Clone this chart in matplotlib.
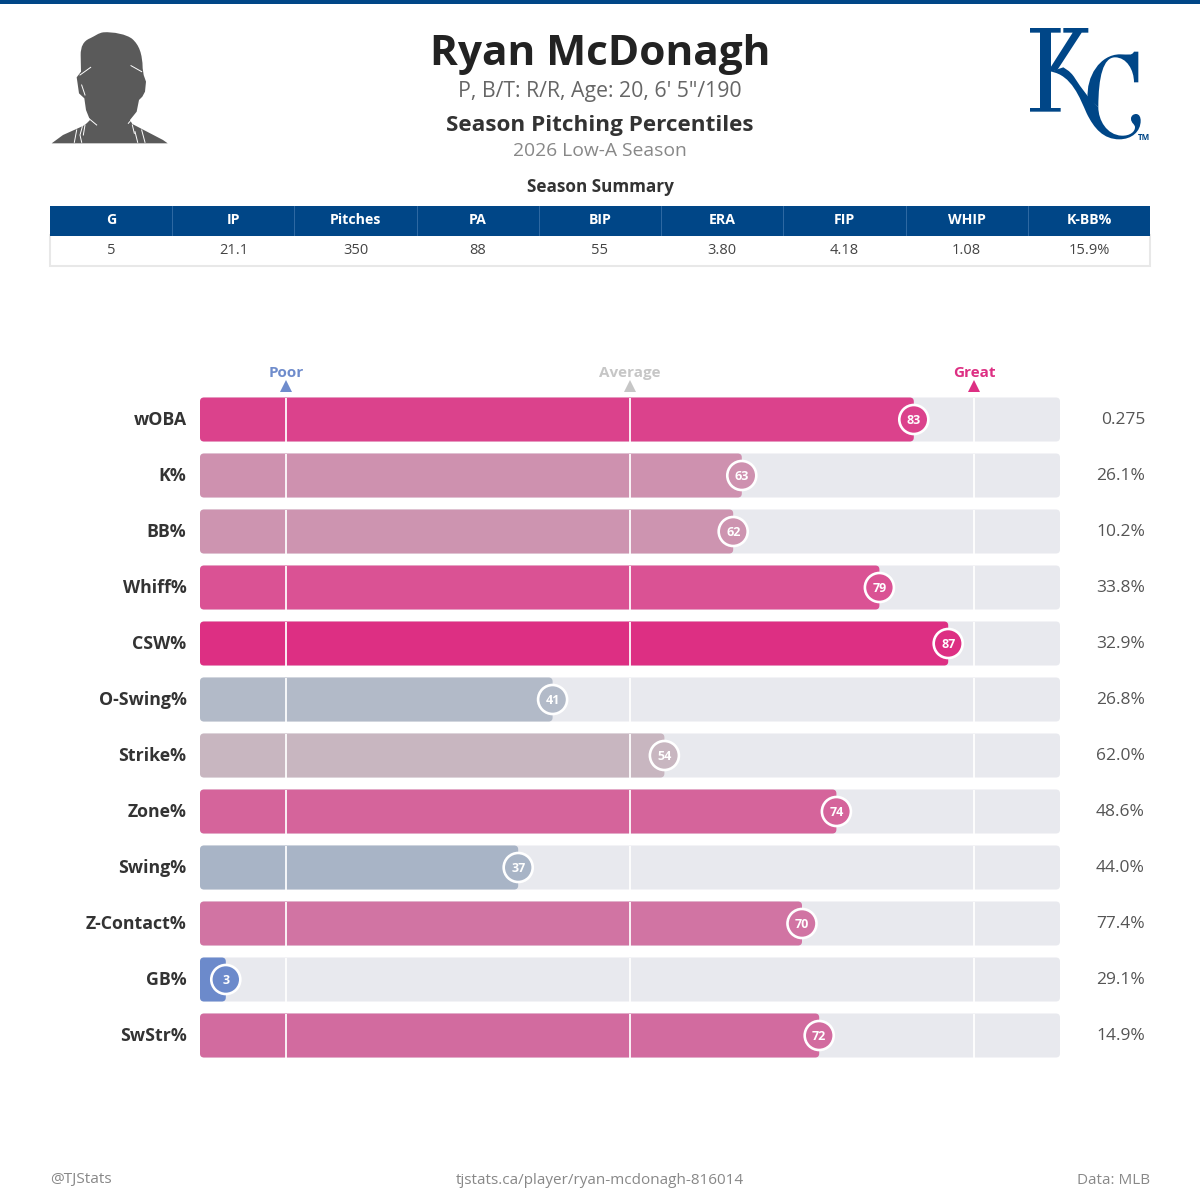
import matplotlib
matplotlib.use('Agg')
import matplotlib.pyplot as plt
from matplotlib.patches import FancyBboxPatch, PathPatch, Rectangle
from matplotlib.path import Path

plt.rcParams['font.family'] = ['Open Sans', 'DejaVu Sans']

# season summary table
summary_cols = ['G', 'IP', 'Pitches', 'PA', 'BIP', 'ERA', 'FIP', 'WHIP', 'K-BB%']
summary_vals = ['5', '21.1', '350', '88', '55', '3.80', '4.18', '1.08', '15.9%']

# percentile rows
metrics = ['wOBA', 'K%', 'BB%', 'Whiff%', 'CSW%', 'O-Swing%', 'Strike%', 'Zone%',
           'Swing%', 'Z-Contact%', 'GB%', 'SwStr%']
percentiles = [83, 63, 62, 79, 87, 41, 54, 74, 37, 70, 3, 72]
stat_values = ['0.275', '26.1%', '10.2%', '33.8%', '32.9%', '26.8%', '62.0%', '48.6%',
               '44.0%', '77.4%', '29.1%', '14.9%']
bar_colors = ['#DB428C', '#CE91AF', '#CD94B0', '#DA5294', '#DD2F83', '#B2BAC8',
              '#C8B6C0', '#D5649B', '#A8B4C6', '#D174A3', '#6C8ACB', '#D26B9F']

# scale markers
marker_names = ['Poor', 'Average', 'Great']
marker_pcts = [10, 50, 90]
marker_colors = ['#6F8CCC', '#C6C6C6', '#DD2F83']

NAVY = '#004687'
TRACK = '#E8E9EE'

fig = plt.figure(figsize=(12, 12), dpi=100)

# page axes in pixel units for header, table and footer
page = fig.add_axes([0, 0, 1, 1])
page.set_xlim(0, 1200)
page.set_ylim(1200, 0)
page.axis('off')

page.add_patch(Rectangle((0, 0), 1200, 4, color=NAVY, lw=0))


def to_path(points):
    # tuples of 2 values are lines, 6 values are a cubic segment
    verts, codes = [points[0]], [Path.MOVETO]
    for p in points[1:]:
        if len(p) == 2:
            verts.append(p)
            codes.append(Path.LINETO)
        else:
            verts += [(p[0], p[1]), (p[2], p[3]), (p[4], p[5])]
            codes += [Path.CURVE4] * 3
    verts.append(points[0])
    codes.append(Path.CLOSEPOLY)
    return verts, codes


def draw_shape(points, ox, oy, color):
    verts, codes = to_path(points)
    verts = [(ox + x / 3, oy + y / 3) for x, y in verts]
    page.add_patch(PathPatch(Path(verts, codes), facecolor=color, edgecolor='none', lw=0))


# player silhouette
head = [(107, 90), (107, 65, 115, 48, 135, 40), (150, 33, 160, 24, 175, 22),
        (205, 20, 245, 28, 262, 42), (282, 60, 292, 85, 293, 130), (296, 150), (303, 170),
        (300, 200), (292, 215), (282, 225), (275, 260), (255, 285), (262, 297), (306, 320),
        (354, 345), (368, 355), (20, 355), (54, 330), (114, 303), (125, 295), (135, 285),
        (123, 255), (118, 220), (102, 205), (97, 170), (95, 157), (108, 140)]
draw_shape(head, 45, 25, '#5A5A5A')
creases = [[(105, 150), (137, 127)], [(258, 122), (290, 140)], [(110, 180), (120, 210)],
           [(125, 275), (155, 300)], [(250, 295), (272, 270)], [(95, 315), (88, 352)],
           [(112, 305), (105, 330), (110, 352)], [(120, 300), (115, 330)],
           [(270, 320), (278, 352)], [(290, 315), (300, 352)], [(262, 300), (268, 325)]]
for c in creases:
    page.plot([45 + p[0] / 3 for p in c], [25 + p[1] / 3 for p in c], color='white', lw=0.7)

# team logo
k_body = [(30, 24), (122, 24), (122, 38), (93, 38), (93, 140), (158, 38), (130, 38), (130, 24),
          (205, 24), (205, 38), (185, 38), (112, 150), (93, 155), (93, 264), (122, 264),
          (122, 275), (30, 275), (30, 264), (60, 264), (60, 38), (30, 38)]
k_leg = [(93, 155), (112, 148), (130, 142), (128, 142, 150, 150, 165, 175),
         (185, 205, 205, 235, 235, 262), (235, 300, 260, 345, 305, 347),
         (330, 348, 345, 335, 345, 322), (345, 312, 333, 310, 333, 296),
         (333, 286, 342, 282, 348, 282), (358, 282, 362, 292, 362, 302),
         (362, 335, 335, 358, 298, 358), (250, 358, 222, 325, 200, 280),
         (180, 235, 155, 165, 93, 155)]
c_bowl = [(203, 235), (198, 170, 240, 103, 300, 103), (325, 103, 335, 108, 342, 95), (355, 95),
          (355, 187), (342, 187), (342, 150, 320, 112, 285, 112), (250, 112, 235, 170, 235, 262)]
draw_shape(k_body, 1020, 20, NAVY)
draw_shape(k_leg, 1020, 20, NAVY)
draw_shape(c_bowl, 1020, 20, NAVY)
page.text(1144, 137, 'TM', fontsize=5.8, fontweight='bold', color=NAVY, ha='center', va='center')

# header text
page.text(600, 54.5, 'Ryan McDonagh', fontsize=30.5, fontweight='bold', color='#222222',
          ha='center', va='center')
page.text(600, 92, 'P, B/T: R/R, Age: 20, 6\' 5"/190', fontsize=15.3, color='#666666',
          ha='center', va='center')
page.text(600, 125, 'Season Pitching Percentiles', fontsize=16.2, fontweight='bold',
          color='#333333', ha='center', va='center')
page.text(600, 151, '2026 Low-A Season', fontsize=13.85, color='#888888', ha='center', va='center')
page.text(600, 186.5, 'Season Summary', fontsize=12.3, fontweight='bold', color='#333333',
          ha='center', va='center')

# summary table
cell_w = 1100 / len(summary_cols)
page.add_patch(Rectangle((50, 235), 1100, 31, facecolor='white', edgecolor='#E8E8E8', lw=1.5))
page.add_patch(Rectangle((50, 206), 1100, 29.5, color=NAVY, lw=0))
for i, (col, val) in enumerate(zip(summary_cols, summary_vals)):
    cx = 50 + cell_w * (i + 0.5)
    page.text(cx, 220.5, col, fontsize=10.2, fontweight='bold', color='white', ha='center', va='center')
    page.text(cx, 251, val, fontsize=10.5, color='#444444', ha='center', va='center')
    if i > 0:
        page.plot([50 + cell_w * i] * 2, [206, 235], color='#2F6AA3', lw=0.7)

# row positions
row_y = [419.5 + 56 * i for i in range(len(metrics))]
row_h = 44

# percentile axes: x is the percentile, y stays in pixels
ax = fig.add_axes([200 / 1200, 0, 860 / 1200, 1])
ax.set_xlim(0, 100)
ax.set_ylim(1200, 0)
ax.axis('off')
ax.patch.set_alpha(0)

round_x = 4 / 8.6
for y, pct, color in zip(row_y, percentiles, bar_colors):
    top = y - row_h / 2
    ax.add_patch(FancyBboxPatch((0, top), 100, row_h, boxstyle=f'round,pad=0,rounding_size={round_x}',
                                mutation_aspect=8.6, facecolor=TRACK, edgecolor='none', zorder=1))
    ax.add_patch(FancyBboxPatch((0, top), pct, row_h, boxstyle=f'round,pad=0,rounding_size={round_x}',
                                mutation_aspect=8.6, facecolor=color, edgecolor='none', zorder=2))
    for m in marker_pcts:
        ax.plot([m, m], [top, top + row_h], color='white', lw=1.4, alpha=0.9, zorder=3,
                solid_capstyle='butt')

# percentile badges
ax.scatter(percentiles, row_y, s=20.9 ** 2, c=bar_colors, edgecolors='white', linewidths=1.9, zorder=4)
for y, pct in zip(row_y, percentiles):
    ax.text(pct, y + 0.5, str(pct), fontsize=9, fontweight='bold', color='white', ha='center',
            va='center', zorder=5)

# scale markers above the rows
for name, m, color in zip(marker_names, marker_pcts, marker_colors):
    ax.plot([m], [386], marker='^', ms=9, color=color, mew=0, clip_on=False, zorder=3)
    ax.text(m, 373, name, fontsize=11, fontweight='bold', color=color, ha='center', va='center')

# row labels and raw values
for y, name, val in zip(row_y, metrics, stat_values):
    page.text(186.5, y + 0.3, name, fontsize=12.75, fontweight='bold', color='#333333', ha='right', va='center')
    page.text(1145, y + 0.3, val, fontsize=12.5, color='#555555', ha='right', va='center')

# footer
page.text(50, 1180, '@TJStats', fontsize=11.1, color='#888888', ha='left', va='center')
page.text(600, 1180, 'tjstats.ca/player/ryan-mcdonagh-816014', fontsize=11, color='#888888',
          ha='center', va='center')
page.text(1150, 1180, 'Data: MLB', fontsize=11, color='#888888', ha='right', va='center')

fig.savefig('out.png', dpi=100)
